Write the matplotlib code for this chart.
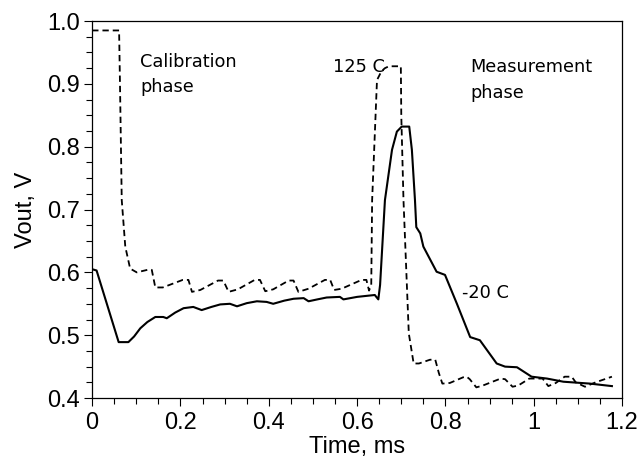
import matplotlib
matplotlib.use("Agg")
import matplotlib.pyplot as plt
from matplotlib.ticker import MultipleLocator

# --- data ----------------------------------------------------------------

# 125 C trace (dashed)
hot_t = [0, 0.061, 0.063, 0.067, 0.075, 0.086, 0.101, 0.125, 0.135, 0.143,
         0.160, 0.205, 0.218, 0.226, 0.245, 0.285, 0.297, 0.309, 0.330, 0.368,
         0.380, 0.392, 0.410, 0.445, 0.456, 0.467, 0.490, 0.527, 0.539, 0.548,
         0.565, 0.610, 0.621, 0.627, 0.632, 0.634, 0.645, 0.655, 0.663, 0.672,
         0.699, 0.700, 0.705, 0.717, 0.728, 0.740, 0.765, 0.777, 0.785, 0.793,
         0.810, 0.840, 0.848, 0.855, 0.870, 0.885, 0.925, 0.935, 0.952, 0.965,
         0.990, 1.020, 1.033, 1.050, 1.070, 1.086, 1.095, 1.116, 1.140, 1.177]
hot_v = [0.985, 0.985, 0.900, 0.715, 0.641, 0.606, 0.600, 0.604, 0.604, 0.576,
         0.576, 0.588, 0.588, 0.569, 0.572, 0.587, 0.587, 0.569, 0.573, 0.588,
         0.588, 0.570, 0.573, 0.587, 0.587, 0.569, 0.574, 0.588, 0.588, 0.572,
         0.574, 0.588, 0.588, 0.571, 0.580, 0.715, 0.906, 0.920, 0.925, 0.928,
         0.928, 0.850, 0.715, 0.503, 0.455, 0.455, 0.461, 0.461, 0.440, 0.423,
         0.424, 0.433, 0.434, 0.430, 0.417, 0.420, 0.431, 0.430, 0.418, 0.420,
         0.431, 0.431, 0.419, 0.424, 0.434, 0.434, 0.425, 0.418, 0.425, 0.434]

# -20 C trace (solid)
cold_t = [0, 0.010, 0.060, 0.082, 0.095, 0.109, 0.125, 0.143, 0.161, 0.169,
          0.188, 0.207, 0.229, 0.248, 0.270, 0.290, 0.312, 0.328, 0.350, 0.373,
          0.395, 0.410, 0.435, 0.456, 0.479, 0.490, 0.510, 0.531, 0.561, 0.569,
          0.600, 0.640, 0.648, 0.652, 0.663, 0.672, 0.679, 0.690, 0.701, 0.718,
          0.724, 0.731, 0.734, 0.743, 0.750, 0.780, 0.799, 0.826, 0.856, 0.878,
          0.916, 0.935, 0.962, 0.995, 1.030, 1.067, 1.127, 1.177]
cold_v = [0.605, 0.603, 0.489, 0.489, 0.498, 0.511, 0.521, 0.529, 0.529, 0.527,
          0.536, 0.543, 0.545, 0.540, 0.545, 0.549, 0.550, 0.546, 0.551, 0.554,
          0.553, 0.550, 0.555, 0.558, 0.559, 0.554, 0.557, 0.560, 0.561, 0.557,
          0.561, 0.564, 0.557, 0.580, 0.715, 0.760, 0.795, 0.824, 0.832, 0.832,
          0.795, 0.715, 0.672, 0.662, 0.641, 0.601, 0.596, 0.550, 0.497, 0.492,
          0.455, 0.450, 0.449, 0.434, 0.431, 0.426, 0.423, 0.419]

# annotations: (text, x, y)
notes = [("Calibration", 0.109, 0.927), ("phase", 0.109, 0.887),
         ("125 C", 0.546, 0.919),
         ("Measurement", 0.856, 0.919), ("phase", 0.856, 0.877),
         ("-20 C", 0.837, 0.559)]

# --- figure ---------------------------------------------------------------

plt.rcParams["font.family"] = "Liberation Sans"

fig = plt.figure(figsize=(6.4, 4.57), dpi=100)
ax = fig.add_axes([0.144, 0.129, 0.828, 0.825])

ax.plot(hot_t, hot_v, color="black", lw=1.3, ls=(0, (3.5, 2.2)))
ax.plot(cold_t, cold_v, color="black", lw=1.5)

for txt, x, y in notes:
    ax.text(x, y, txt, fontsize=12.8, family="DejaVu Sans",
            ha="left", va="baseline")

ax.set_xlim(0, 1.2)
ax.set_ylim(0.4, 1.0)
ax.xaxis.set_minor_locator(MultipleLocator(0.05))
ax.yaxis.set_minor_locator(MultipleLocator(0.025))
ax.set_xticks([0, 0.2, 0.4, 0.6, 0.8, 1.0, 1.2])
ax.set_xticklabels(["0", "0.2", "0.4", "0.6", "0.8", "1", "1.2"])
ax.set_yticks([0.4, 0.5, 0.6, 0.7, 0.8, 0.9, 1.0])
ax.set_yticklabels(["0.4", "0.5", "0.6", "0.7", "0.8", "0.9", "1.0"])

ax.tick_params(which="both", direction="out", width=0.8, labelsize=17)
ax.tick_params(axis="x", pad=4)
ax.tick_params(axis="y", pad=3)
ax.tick_params(which="major", length=6)
ax.tick_params(which="minor", length=4)
for s in ax.spines.values():
    s.set_linewidth(0.9)

ax.set_xlabel("Time, ms", fontsize=17)
ax.set_ylabel("Vout, V", fontsize=17)
ax.xaxis.set_label_coords(0.5, -0.1)
ax.yaxis.set_label_coords(-0.105, 0.5)

fig.savefig("out.png", dpi=100)
